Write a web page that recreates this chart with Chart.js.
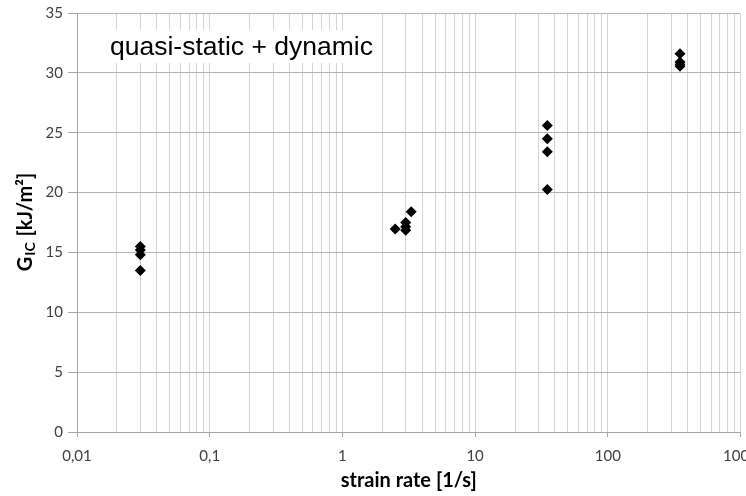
<!DOCTYPE html>
<html>
<head>
<meta charset="utf-8">
<script src="https://cdn.jsdelivr.net/npm/chart.js@4/dist/chart.umd.min.js"></script>
<style>
  html, body { margin: 0; padding: 0; background: #fff; overflow: hidden; }
</style>
</head>
<body>
<canvas id="chart" width="746" height="496"></canvas>
<script>
// Measured points (strain rate vs G_IC)
const strainRates = [0.03, 0.03, 0.03, 0.03, 2.5, 3, 3, 3, 3.3, 35, 35, 35, 35, 350, 350, 350, 350];
const gicValues = [15.5, 15.2, 14.8, 13.5, 16.95, 17.5, 17.15, 16.85, 18.4, 25.6, 24.5, 23.4, 20.25, 31.6, 30.9, 30.7, 30.55];

// Axis ticks
const decadeTicks = [0.01, 0.1, 1, 10, 100, 1000];
const decadeLabels = ['0,01', '0,1', '1', '10', '100', '1000'];
const yTicks = [0, 5, 10, 15, 20, 25, 30, 35];

const boxText = 'quasi-static + dynamic';
const xTitle = 'strain rate [1/s]';

const tickFont = { family: 'Lato, "Open Sans", sans-serif', size: 15 };

function decadeIndex(v) {
    return decadeTicks.findIndex(d => Math.abs(Math.log10(v) - Math.log10(d)) < 1e-6);
}

// grid values: 1..9 inside every decade
const gridValues = [];
decadeTicks.forEach((d, i) => {
    if (i === decadeTicks.length - 1) { gridValues.push(d); return; }
    for (let m = 1; m <= 9; m++) gridValues.push(+(d * m).toPrecision(6));
});

const points = strainRates.map((x, i) => ({ x: x, y: gicValues[i] }));

// text box and axis titles
const decorPlugin = {
    id: 'decor',
    beforeDatasetsDraw(chart) {
        const ctx = chart.ctx;
        ctx.save();
        ctx.fillStyle = '#fff';
        ctx.fillRect(100, 30, 280, 33);
        ctx.fillStyle = '#000';
        ctx.font = '26.5px "Liberation Sans", Arial, sans-serif';
        ctx.textBaseline = 'alphabetic';
        ctx.textAlign = 'left';
        ctx.fillText(boxText, 110, 55);
        ctx.restore();
    },
    afterDraw(chart) {
        const ctx = chart.ctx;
        const area = chart.chartArea;
        ctx.save();
        ctx.fillStyle = '#000';
        ctx.textBaseline = 'alphabetic';
        // x title
        ctx.font = 'bold 20px Lato, "Open Sans", sans-serif';
        ctx.textAlign = 'center';
        ctx.fillText(xTitle, (area.left + area.right) / 2, 487);
        // y title with subscript
        const big = 'bold 20px Lato, "Open Sans", sans-serif';
        const small = 'bold 14px Lato, "Open Sans", sans-serif';
        ctx.font = big;
        const wG = ctx.measureText('G').width;
        const wRest = ctx.measureText(' [kJ/m²]').width;
        ctx.font = small;
        const wSub = ctx.measureText('IC').width + 1;
        const total = wG + wSub + wRest;
        ctx.translate(32, (area.top + area.bottom) / 2);
        ctx.rotate(-Math.PI / 2);
        ctx.textAlign = 'left';
        let x = -total / 2;
        ctx.font = big;
        ctx.fillText('G', x, 0);
        x += wG + 1;
        ctx.font = small;
        ctx.fillText('IC', x, 3);
        x += wSub;
        ctx.font = big;
        ctx.fillText(' [kJ/m²]', x, 0);
        ctx.restore();
    }
};

const chart = new Chart(document.getElementById('chart').getContext('2d'), {
    type: 'scatter',
    data: {
        datasets: [{
            label: 'G_IC',
            data: points,
            pointStyle: 'rectRot',
            pointRadius: 5.5,
            pointHoverRadius: 5.5,
            backgroundColor: '#000',
            borderColor: '#000',
            borderWidth: 0
        }]
    },
    options: {
        responsive: false,
        animation: false,
        events: [],
        layout: { padding: { top: 13, right: 5, left: 0, bottom: 0 } },
        plugins: {
            legend: { display: false },
            tooltip: { enabled: false }
        },
        scales: {
            x: {
                type: 'logarithmic',
                min: decadeTicks[0],
                max: decadeTicks[decadeTicks.length - 1],
                afterBuildTicks: (scale) => {
                    scale.ticks = gridValues.map(v => ({ value: v, major: decadeIndex(v) >= 0 }));
                },
                afterFit: (scale) => {
                    scale.height = 64;
                    scale.paddingLeft = 0;
                    scale.paddingRight = 0;
                },
                ticks: {
                    autoSkip: false,
                    maxRotation: 0,
                    minRotation: 0,
                    padding: 10,
                    color: '#404040',
                    font: tickFont,
                    callback: function (value) {
                        const i = decadeIndex(value);
                        return i >= 0 ? decadeLabels[i] : '';
                    }
                },
                grid: {
                    color: '#d4d4d4',
                    tickLength: 5,
                    tickColor: (c) => (c.tick && decadeIndex(c.tick.value) >= 0) ? '#a6a6a6' : 'rgba(0,0,0,0)'
                },
                border: { color: '#a6a6a6' }
            },
            y: {
                min: yTicks[0],
                max: yTicks[yTicks.length - 1],
                afterBuildTicks: (scale) => {
                    scale.ticks = yTicks.map(v => ({ value: v }));
                },
                afterFit: (scale) => {
                    scale.width = 77;
                    scale.paddingTop = 0;
                    scale.paddingBottom = 0;
                },
                ticks: {
                    padding: 5,
                    color: '#404040',
                    font: tickFont
                },
                grid: {
                    color: '#b4b4b4',
                    tickLength: 9,
                    tickColor: '#a6a6a6'
                },
                border: { color: '#a6a6a6' }
            }
        }
    },
    plugins: [decorPlugin]
});
</script>
</body>
</html>
